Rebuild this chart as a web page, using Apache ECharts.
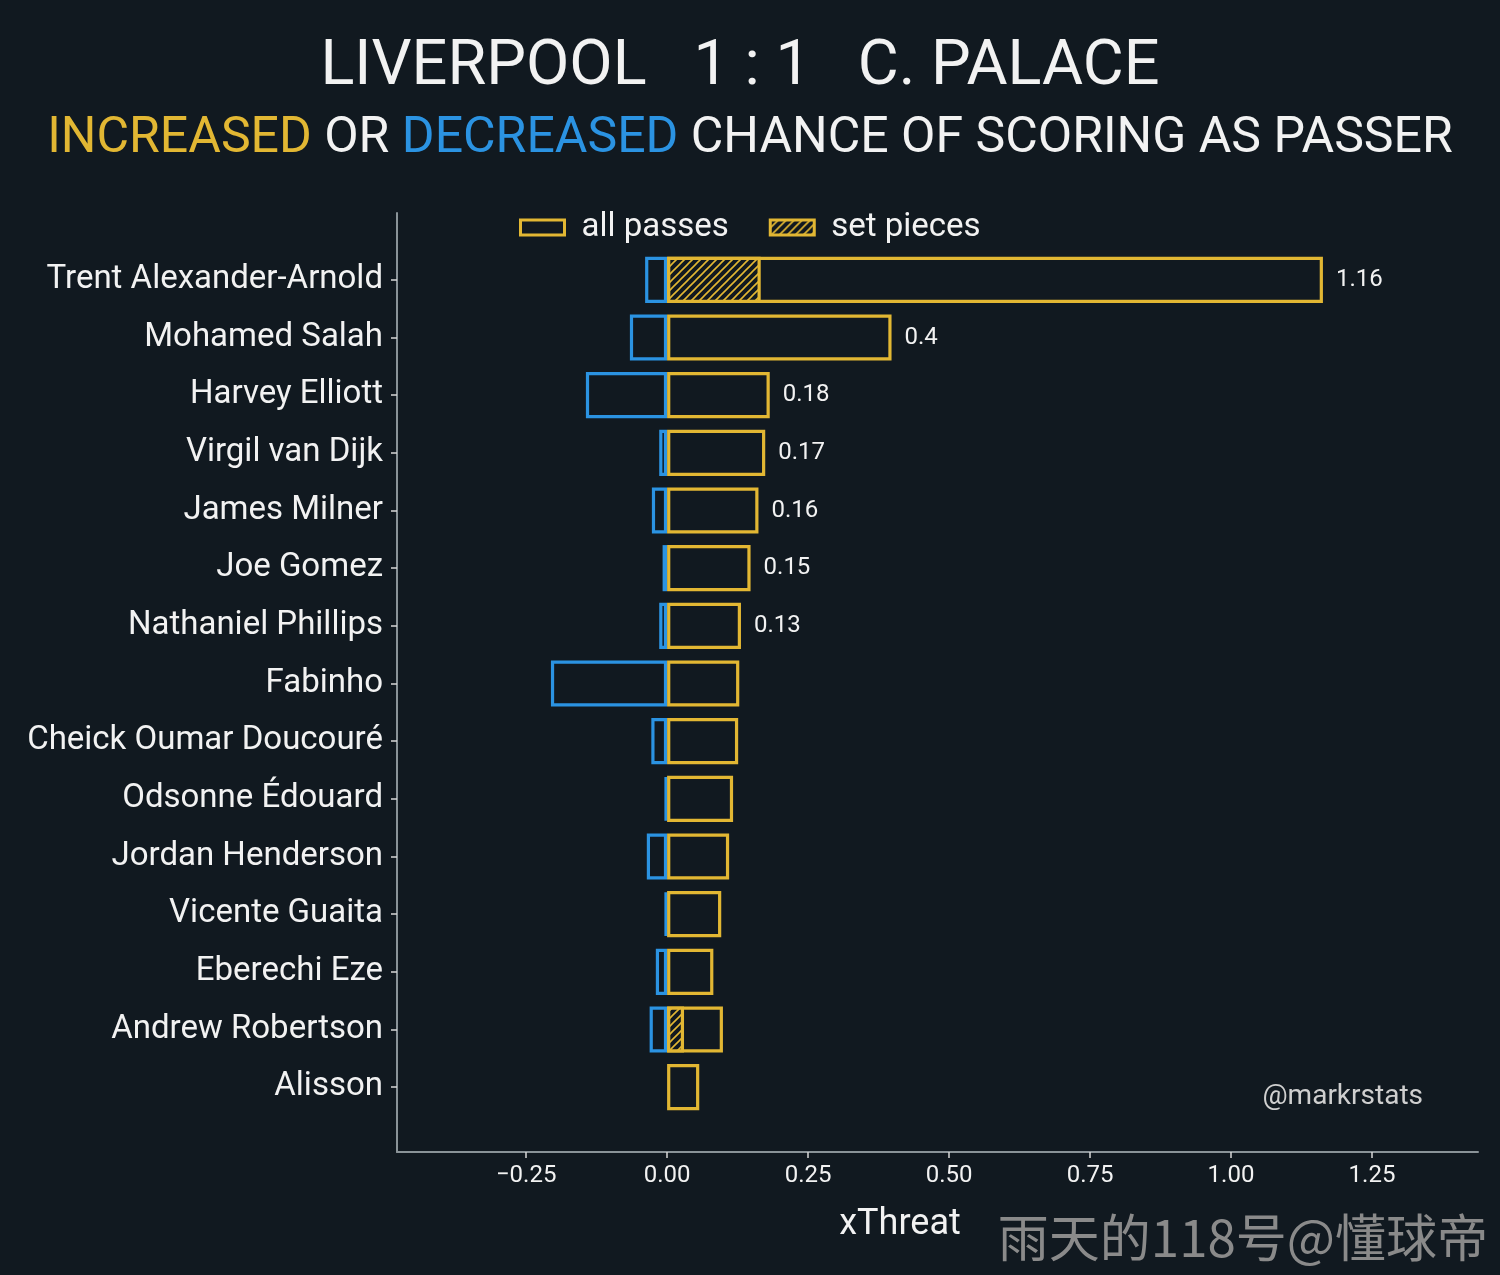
<!DOCTYPE html>
<html><head><meta charset="utf-8">
<script src="https://cdn.jsdelivr.net/npm/echarts@6/dist/echarts.min.js"></script>
<style>html,body{margin:0;padding:0;background:#111920;}#c{width:1500px;height:1275px;}</style>
</head><body><div id="c"></div>
<script>
const players = ['Trent Alexander-Arnold','Mohamed Salah','Harvey Elliott','Virgil van Dijk','James Milner','Joe Gomez','Nathaniel Phillips','Fabinho','Cheick Oumar Doucouré','Odsonne Édouard','Jordan Henderson','Vicente Guaita','Eberechi Eze','Andrew Robertson','Alisson'];
const increased = [1.163,0.398,0.182,0.174,0.162,0.148,0.131,0.128,0.126,0.117,0.110,0.096,0.082,0.099,0.057];
const decreased = [-0.039,-0.066,-0.144,-0.014,-0.027,-0.008,-0.014,-0.206,-0.028,-0.004,-0.036,-0.004,-0.020,-0.031,0];
const setPieces = [0.166,0,0,0,0,0,0,0,0,0,0,0,0,0.030,0];
const valueLabels = ['1.16','0.4','0.18','0.17','0.16','0.15','0.13','','','','','','','',''];
const xTicks = [-0.25,0,0.25,0.5,0.75,1.0,1.25];

const BG = '#111920', YEL = '#e2b733', BLUE = '#2b93e2', AX = '#8a9398', TXT = '#f2f2f2';
const FONT = 'Roboto';

// hatch pattern
const pc = document.createElement('canvas');
pc.width = 8; pc.height = 8;
const g = pc.getContext('2d');
g.fillStyle = BG; g.fillRect(0,0,8,8);
g.strokeStyle = YEL; g.lineWidth = 1.6;
g.beginPath();
g.moveTo(-1,9); g.lineTo(9,-1);
g.moveTo(-5,5); g.lineTo(5,-5);
g.moveTo(3,13); g.lineTo(13,3);
g.stroke();
const hatch = {image: pc, repeat: 'repeat'};

const chart = echarts.init(document.getElementById('c'));
const xMin = -0.479, xMax = 1.438;
chart.setOption({
  backgroundColor: BG,
  animation: false,
  graphic: [
    {type:'text', x:740, y:68, style:{text:'LIVERPOOL   1 : 1   C. PALACE', fill:TXT, font:'400 63px Roboto', align:'center', verticalAlign:'middle'}},
    {type:'text', x:750, y:139, style:{
      text:'{y|INCREASED} OR {b|DECREASED} CHANCE OF SCORING AS PASSER', fill:TXT, font:'400 50px Roboto', align:'center', verticalAlign:'middle',
      rich:{y:{fill:YEL, font:'400 50px Roboto'}, b:{fill:BLUE, font:'400 50px Roboto'}}}},
    {type:'text', x:1423, y:1097, style:{text:'@markrstats', fill:'#cfcfcf', font:'400 28px Roboto', align:'right', verticalAlign:'middle'}},
    {type:'text', x:900, y:1225, style:{text:'xThreat', fill:TXT, font:'400 36px Roboto', align:'center', verticalAlign:'middle'}},
    {type:'text', x:1488, y:1238, style:{text:'雨天的118号@懂球帝', fill:'#8a8a8a', font:'400 51px "Noto Sans CJK SC"', align:'right', verticalAlign:'middle'}}
  ],
  legend: {
    left: 514, top: 206, itemWidth: 44, itemHeight: 15, itemGap: 40,
    icon: 'rect',
    textStyle: {color: TXT, fontFamily: FONT, fontSize: 33, padding:[0,0,0,12]},
    data: [
      {name:'all passes', itemStyle:{color:BG, borderColor:YEL, borderWidth:3}},
      {name:'set pieces', itemStyle:{color:hatch, borderColor:YEL, borderWidth:3}}
    ]
  },
  grid: [
    {left:397, right:22, top:251, bottom:159},
    {left:397, right:22, top:213, bottom:123}
  ],
  xAxis: [
    {type:'value', gridIndex:0, min:xMin, max:xMax, show:false, splitLine:{show:false}},
    {type:'value', gridIndex:1, min:xMin, max:xMax, splitLine:{show:false},
     axisLine:{show:true, onZero:false, lineStyle:{color:AX, width:2}},
     axisTick:{show:true, length:6, lineStyle:{color:'#d8d8d8', width:1.5}, customValues:xTicks},
     axisLabel:{color:TXT, fontFamily:FONT, fontSize:24, margin:12, customValues:xTicks,
       formatter: v => (v<0?'\u2212':'') + Math.abs(v).toFixed(2)}}
  ],
  yAxis: [
    {type:'category', gridIndex:0, data:players, inverse:true,
     axisLine:{show:false, onZero:false},
     axisTick:{show:true, alignWithLabel:true, length:6, lineStyle:{color:'#d8d8d8', width:1.5}},
     axisLabel:{color:TXT, fontFamily:FONT, fontSize:33, margin:14, padding:[9,0,0,0]}},
    {type:'value', gridIndex:1, min:0, max:1,
     axisLine:{show:true, onZero:false, lineStyle:{color:AX, width:2}},
     axisTick:{show:false}, axisLabel:{show:false}, splitLine:{show:false}}
  ],
  series: [
    {name:'decreased', type:'bar', xAxisIndex:0, yAxisIndex:0, barWidth:'80%', barGap:'-100%',
     data: decreased.map(v => v===0 ? '-' : v),
     itemStyle:{color:BG, borderColor:BLUE, borderWidth:3.2}},
    {name:'all passes', type:'bar', xAxisIndex:0, yAxisIndex:0, barWidth:'80%', barGap:'-100%',
     data: increased,
     itemStyle:{color:BG, borderColor:YEL, borderWidth:3.2},
     label:{show:true, position:'right', distance:13, color:TXT, fontFamily:FONT, fontSize:24,
       formatter: p => valueLabels[p.dataIndex]}},
    {name:'set pieces', type:'bar', xAxisIndex:0, yAxisIndex:0, barWidth:'80%', barGap:'-100%',
     data: setPieces.map(v => v===0 ? '-' : v),
     itemStyle:{color:hatch, borderColor:YEL, borderWidth:3.2}}
  ]
});
</script></body></html>
